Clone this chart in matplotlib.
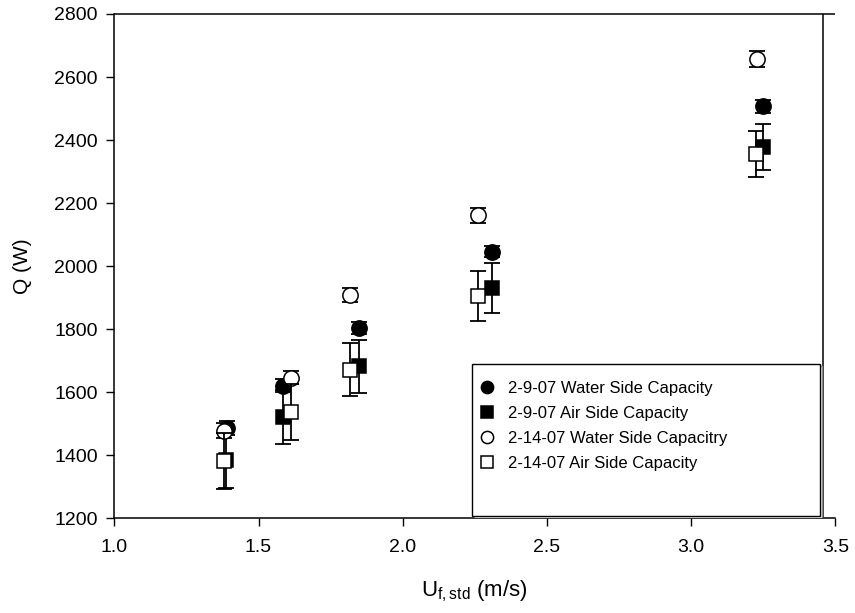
import matplotlib
matplotlib.use("Agg")
import matplotlib.pyplot as plt
from matplotlib.patches import Rectangle

plt.rcParams["font.family"] = ["Liberation Sans", "DejaVu Sans"]
plt.rcParams["mathtext.default"] = "regular"

# 2-9-07 water side (filled circles)
x_w9 = [1.390, 1.584, 1.847, 2.309, 3.248]
q_w9 = [1487, 1621, 1804, 2046, 2507]
e_w9 = [22, 20, 19, 18, 20]

# 2-9-07 air side (filled squares)
x_a9 = [1.387, 1.584, 1.847, 2.309, 3.248]
q_a9 = [1385, 1523, 1683, 1930, 2378]
e_a9 = [88, 86, 84, 79, 73]

# 2-14-07 water side (open circles)
x_w14 = [1.381, 1.612, 1.816, 2.262, 3.227]
q_w14 = [1479, 1646, 1908, 2162, 2657]
e_w14 = [23, 21, 22, 24, 25]

# 2-14-07 air side (open squares)
x_a14 = [1.381, 1.612, 1.816, 2.262, 3.225]
q_a14 = [1383, 1539, 1672, 1906, 2356]
e_a14 = [88, 89, 84, 79, 72]

labels = ["2-9-07 Water Side Capacity", "2-9-07 Air Side Capacity",
          "2-14-07 Water Side Capacitry", "2-14-07 Air Side Capacity"]

fig = plt.figure(figsize=(8.55, 6.13), dpi=100)
ax = fig.add_axes([0.1337, 0.1542, 0.8433, 0.823])

series = [
    (x_w9, q_w9, e_w9, "o", "black", 11),
    (x_a9, q_a9, e_a9, "s", "black", 10),
    (x_w14, q_w14, e_w14, "o", "white", 11),
    (x_a14, q_a14, e_a14, "s", "white", 10),
]
handles = []
for i, (x, q, e, m, fc, ms) in enumerate(series):
    ax.errorbar(x, q, yerr=e, fmt="none", ecolor="black", elinewidth=1.3,
                capsize=5.5, capthick=1.3, zorder=2 + 2 * i)
    h, = ax.plot(x, q, linestyle="none", marker=m, markersize=ms,
                 markerfacecolor=fc, markeredgecolor="black",
                 markeredgewidth=1.1, zorder=3 + 2 * i, label=labels[i])
    handles.append(h)

ax.set_xlim(1.0, 3.5)
ax.set_ylim(1200, 2800)
ax.set_xticks([1.0, 1.5, 2.0, 2.5, 3.0, 3.5])
ax.set_yticks(range(1200, 2801, 200))
ax.xaxis.set_major_formatter(matplotlib.ticker.FormatStrFormatter("%.1f"))
ax.tick_params(direction="out", length=6, width=1.0, labelsize=14,
               top=False, right=False)
ax.tick_params(axis="x", pad=9)
ax.tick_params(axis="y", pad=6)

for s in ("left", "bottom"):
    ax.spines[s].set_linewidth(1.1)
ax.spines["top"].set_visible(False)
ax.spines["right"].set_visible(False)
# frame: top line across the full width, right line a bit short of 3.5
ax.plot([0, 1], [1, 1], transform=ax.transAxes, color="black",
        linewidth=1.1, clip_on=False, solid_capstyle="butt")
ax.axvline(3.458, color="black", linewidth=1.1)

ax.set_xlabel(r"U$_{f,std}$ (m/s)", fontsize=16, labelpad=16)
ax.set_ylabel("Q (W)", fontsize=15, labelpad=16)

# legend frame drawn separately (fixed size box with a thin grey shadow)
bx, by, bw, bh = 0.4957, 0.004, 0.483, 0.302
ax.add_patch(Rectangle((bx + 0.003, by - 0.004), bw, bh, transform=ax.transAxes,
                       facecolor="white", edgecolor="#888888", linewidth=1.0,
                       zorder=20))
ax.add_patch(Rectangle((bx, by), bw, bh, transform=ax.transAxes,
                       facecolor="white", edgecolor="black", linewidth=1.0,
                       zorder=21))

leg = ax.legend(handles=handles, loc="upper left",
                bbox_to_anchor=(0.5060, 0.273), frameon=False,
                fontsize=12, numpoints=1, handlelength=1.0, handletextpad=0.75,
                labelspacing=0.6, borderpad=0, borderaxespad=0,
                markerscale=0.8)
leg.set_zorder(22)

fig.savefig("out.png", dpi=100)
